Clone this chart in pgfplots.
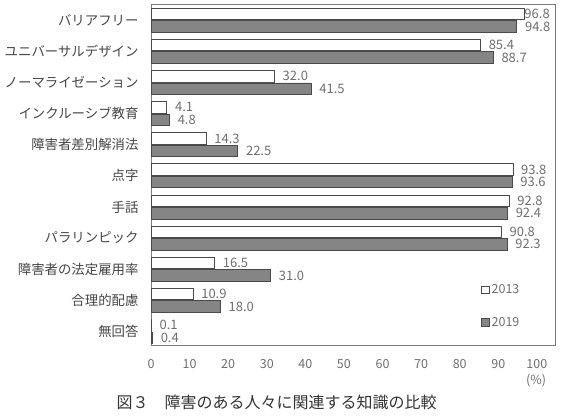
\documentclass[border=0pt]{standalone}
\usepackage{fontspec}
\setmainfont{Noto Sans CJK JP}
\usepackage{pgfplots}
\pgfplotsset{compat=1.18}
\usepackage{pgfplotstable}
\definecolor{barfill}{HTML}{858585}
\definecolor{baredge}{HTML}{4A4A4A}
\definecolor{framec}{HTML}{7A7A7A}
\definecolor{txt}{HTML}{454545}
\definecolor{ticktxt}{HTML}{6E6E6E}
\definecolor{captxt}{HTML}{333333}

\pgfplotstableread{
y x dx
0 96.8 -3.8
1 85.4 4.5
2 32.0 4.5
3 4.1 4.5
4 14.3 4.5
5 93.8 4.5
6 92.8 4.5
7 90.8 4.5
8 16.5 4.5
9 10.9 4.5
10 0.1 4.5
}\dA
\pgfplotstableread{
y x dx
0 94.8 4.5
1 88.7 4.5
2 41.5 4.5
3 4.8 4.5
4 22.5 4.5
5 93.6 4.5
6 92.4 4.5
7 92.3 4.5
8 31.0 4.5
9 18.0 4.5
10 0.4 4.5
}\dB

\begin{document}
\begin{tikzpicture}
\path[use as bounding box] (0,0) rectangle (561pt,-415pt);
\begin{axis}[
  at={(151pt,-4.7pt)}, anchor=north west,
  scale only axis, width=404pt, height=341pt,
  xbar=1pt, bar width=11.5pt,
  xmin=0, xmax=104.7, ymin=-0.5, ymax=10.46, y dir=reverse,
  xtick={0,10,...,100}, ytick={0,...,10},
  yticklabels={バリアフリー,ユニバーサルデザイン,ノーマライゼーション,インクルーシブ教育,障害者差別解消法,点字,手話,パラリンピック,障害者の法定雇用率,合理的配慮,無回答},
  major tick length=0pt,
  axis line style={framec, line width=0.8pt},
  /pgf/number format/assume math mode=true,
  xticklabel style={font=\fontsize{12.5}{13}\selectfont, text=ticktxt, yshift=-10pt},
  yticklabel style={font=\fontsize{13.4}{14}\selectfont, text=txt, xshift=-9pt},
  xlabel={(\%)},
  x label style={at={(axis description cs:0.953,0)}, anchor=center, yshift=-34.5pt, font=\fontsize{12.5}{13}\selectfont, text=ticktxt},
  point meta=x,
  nodes near coords={\pgfmathprintnumber[fixed,fixed zerofill,precision=1]{\pgfplotspointmeta}},
  visualization depends on={\thisrow{dx} \as \dx},
  nodes near coords style={font=\fontsize{13}{14}\selectfont, text=ticktxt, anchor=west, xshift=\dx},
  legend style={at={(0.817,0.116)}, anchor=west, draw=none, fill=none, row sep=18pt, font=\fontsize{12.5}{13}\selectfont, text=ticktxt, inner sep=0pt},
  legend cell align=left,
  clip=false,
]
\addplot[draw=baredge, fill=white, line width=0.8pt, bar shift=6.25pt,
  legend image code/.code={\draw[draw=baredge, fill=white, line width=0.8pt] (0pt,-3.8pt) rectangle (7.6pt,3.8pt);}]
  table[x=x,y=y] {\dA};
\addlegendentry{2013}
\addplot[draw=baredge, fill=barfill, line width=0.8pt, bar shift=-6.25pt,
  legend image code/.code={\draw[draw=baredge, fill=barfill, line width=0.8pt] (0pt,-3.8pt) rectangle (7.6pt,3.8pt);}]
  table[x=x,y=y] {\dB};
\addlegendentry{2019}
\end{axis}
\node[anchor=west, font=\fontsize{16}{17}\selectfont, text=captxt] at (113pt,-402pt) {図３　障害のある人々に関連する知識の比較};
\end{tikzpicture}
\end{document}
